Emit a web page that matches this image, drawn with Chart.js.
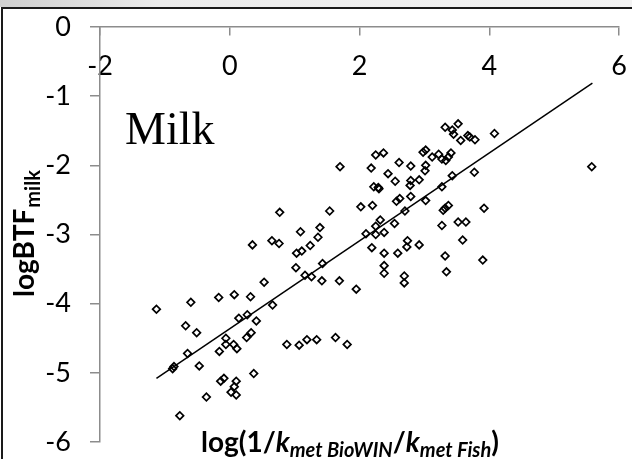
<!DOCTYPE html>
<html>
<head>
<meta charset="utf-8">
<script src="https://cdn.jsdelivr.net/npm/chart.js@4.4.1/dist/chart.umd.min.js"></script>
<style>
  html, body { margin: 0; padding: 0; background: #fff; }
  #wrap { position: relative; width: 632px; height: 459px; overflow: hidden; }
  #strip { position: absolute; left: 0; top: 0; width: 632px; height: 7px;
           background: linear-gradient(to right, #cfcfcf, #ebebeb 25%, #f3f3f3); }
  #frame { position: absolute; left: 1px; top: 7px; width: 700px; height: 500px;
           border-top: 2px solid #1a1a1a; border-left: 2px solid #1a1a1a; }
  canvas { position: absolute; left: 0; top: 0; }
</style>
</head>
<body>
<div id="wrap">
  <div id="strip"></div>
  <div id="frame"></div>
  <canvas id="myChart" width="632" height="459"></canvas>
</div>
<script>
// log(1/kmet BioWIN/kmet Fish) values
const milkX = [-1.13, -0.60, -0.68, -0.51, -0.65, -0.86, -0.88, -0.47, -0.77, -0.36,
  -0.17, 0.07, 0.32, 0.53, 0.66, 0.14, 0.27, 0.41, -0.06, -0.06,
  0.06, 0.11, -0.16, 0.33, 0.26, 0.37, -0.14, -0.09, 0.10, 0.07,
  0.02, 0.10, 0.88, 1.07, 1.19, 1.34, 1.63, 1.81, 1.03, 1.11,
  1.02, 1.16, 1.26, 1.43, 1.42, 1.69, 1.95, 1.70, 0.77, 1.54,
  0.35, 0.65, 0.76, 1.09, 1.39, 1.36, 1.24, 3.32, 3.52, 3.43,
  3.45, 3.56, 3.67, 3.70, 3.78, 4.08, 5.58, 2.25, 2.37, 2.18,
  2.61, 2.79, 2.98, 3.02, 3.12, 3.22, 3.27, 3.33, 3.37, 3.41,
  3.02, 3.01, 2.44, 3.77, 3.43, 2.79, 2.78, 2.92, 2.55, 2.22,
  2.29, 2.30, 3.27, 2.79, 2.57, 2.62, 3.02, 2.02, 2.20, 2.70,
  3.29, 3.32, 3.37, 3.92, 2.32, 2.25, 2.25, 2.10, 2.38, 2.54,
  3.27, 3.52, 3.64, 3.59, 2.19, 2.38, 2.59, 2.74, 2.73, 2.92,
  3.32, 3.90, 2.38, 2.38, 2.69, 2.69, 3.34];
// logBTF milk values
const milkY = [-4.08, -3.98, -4.32, -4.42, -4.72, -4.91, -4.94, -4.90, -5.62, -5.35,
  -3.91, -3.87, -3.90, -3.69, -4.02, -4.21, -4.16, -4.25, -4.50, -4.59,
  -4.59, -4.65, -4.69, -4.42, -4.49, -5.01, -5.12, -5.08, -5.12, -5.20,
  -5.28, -5.32, -4.59, -4.60, -4.52, -4.52, -4.49, -4.59, -3.27, -3.24,
  -3.48, -3.59, -3.61, -3.42, -3.67, -3.67, -3.79, -2.02, -2.68, -2.66,
  -3.15, -3.09, -3.13, -2.96, -2.90, -3.04, -3.16, -1.45, -1.40, -1.49,
  -1.55, -1.64, -1.57, -1.59, -1.63, -1.54, -2.02, -1.85, -1.82, -2.04,
  -1.96, -2.01, -1.81, -1.78, -1.88, -1.84, -1.91, -1.93, -1.88, -1.82,
  -2.00, -2.08, -2.12, -2.10, -2.15, -2.22, -2.29, -2.21, -2.23, -2.31,
  -2.32, -2.34, -2.31, -2.45, -2.52, -2.48, -2.51, -2.60, -2.58, -2.66,
  -2.65, -2.62, -2.58, -2.62, -2.79, -2.88, -3.00, -2.99, -2.97, -2.84,
  -2.87, -2.82, -2.82, -3.08, -3.19, -3.27, -3.27, -3.09, -3.18, -3.15,
  -3.31, -3.37, -3.45, -3.56, -3.60, -3.70, -3.54];

// trend line end points
const trendX = [-1.13, 5.59];
const trendY = [-5.08, -0.81];

const axisGray = '#8c8c8c';

const points = milkX.map((x, i) => ({ x: x, y: milkY[i] }));
const trend = trendX.map((x, i) => ({ x: x, y: trendY[i] }));

// axis titles and the "Milk" label (mixed fonts, so drawn by hand)
const labelsPlugin = {
  id: 'labels',
  afterDraw(chart) {
    const ctx = chart.ctx;
    ctx.save();
    ctx.fillStyle = '#000';
    ctx.textBaseline = 'alphabetic';
    ctx.textAlign = 'left';

    ctx.font = '46px "Liberation Serif", serif';
    ctx.fillText('Milk', 125, 144);

    // y title
    ctx.save();
    ctx.translate(34, 297);
    ctx.rotate(-Math.PI / 2);
    ctx.font = 'bold 28px Lato';
    ctx.fillText('logBTF', 0, 0);
    let w = ctx.measureText('logBTF').width;
    ctx.font = 'bold 20px Lato';
    ctx.fillText('milk', w + 1, 6);
    ctx.restore();

    // x title
    let x = 201;
    const base = 452;
    const parts = [
      ['log(1/', 'bold 28px Lato', 0],
      ['k', 'italic bold 28px Lato', 0],
      ['met BioWIN', 'italic bold 20px Lato', 5],
      ['/', 'bold 28px Lato', 0],
      ['k', 'italic bold 28px Lato', 0],
      ['met Fish', 'italic bold 20px Lato', 5],
      [')', 'bold 28px Lato', 0]
    ];
    parts.forEach(p => {
      ctx.font = p[1];
      ctx.fillText(p[0], x, base + p[2]);
      x += ctx.measureText(p[0]).width;
    });
    ctx.restore();
  }
};

const ctx = document.querySelector('#myChart');

myChart = new Chart(ctx, {
  type: 'scatter',
  data: {
    datasets: [{
      label: 'Milk',
      data: points,
      pointStyle: 'rectRot',
      pointRadius: 3.8,
      pointBorderWidth: 1.7,
      borderColor: '#000',
      backgroundColor: 'rgba(0,0,0,0)'
    }, {
      type: 'line',
      label: 'trend',
      data: trend,
      borderColor: '#000',
      borderWidth: 1.5,
      pointRadius: 0,
      fill: false
    }]
  },
  options: {
    responsive: false,
    animation: false,
    layout: { padding: { top: 27, right: 13, bottom: 17, left: 0 } },
    plugins: { legend: { display: false }, tooltip: { enabled: false } },
    scales: {
      x: {
        type: 'linear',
        min: -2, max: 6,
        position: { y: 0 },
        afterFit: s => { s.height = 0; s.paddingLeft = 0; s.paddingRight = 0; },
        ticks: { stepSize: 2, autoSkip: false, maxRotation: 0, padding: 15,
                 color: '#000', font: { family: 'Lato', size: 27 } },
        grid: { drawOnChartArea: false, tickLength: 8, color: axisGray, lineWidth: 1.5 },
        border: { color: axisGray, width: 1.5 }
      },
      y: {
        type: 'linear',
        min: -6, max: 0,
        position: 'left',
        afterFit: s => { s.width = 100; s.paddingTop = 0; s.paddingBottom = 0; },
        ticks: { stepSize: 1, padding: 19, color: '#000',
                 font: { family: 'Lato', size: 27 } },
        grid: { drawOnChartArea: false, tickLength: 10, color: axisGray, lineWidth: 1.5 },
        border: { color: axisGray, width: 1.5 }
      }
    }
  },
  plugins: [labelsPlugin]
});
</script>
</body>
</html>
